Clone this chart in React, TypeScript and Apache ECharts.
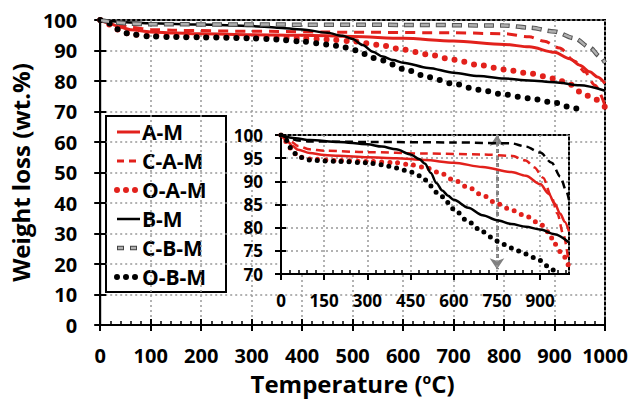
import React, { useEffect, useRef } from "react";
import * as echarts from "echarts";

const seriesNames = ["A-M", "C-A-M", "O-A-M", "B-M", "C-B-M", "O-B-M"];

const amData = [[0,100],[20,98.8],[40,97.6],[60,96.8],[100,96.1],[150,95.7],[200,95.5],[300,95.2],[400,95],[500,94.6],[600,94],[700,93.1],[800,92],[850,91.2],[900,89.4],[930,87.3],[950,85.2],[970,83],[985,81.3],[1000,79.2]];
const camData = [[0,100],[30,98.8],[60,97.6],[100,96.9],[150,96.6],[300,96.3],[500,96],[700,95.8],[800,95.5],[850,94.5],[880,93],[910,90.8],[940,86.5],[960,83],[980,78.6],[1000,72]];
const oamData = [[0,100],[20,98.5],[40,96.5],[60,95.3],[100,94.8],[200,94.5],[300,94.3],[400,94],[450,93.6],[500,93],[550,91.9],[600,90.3],[650,88.7],[700,87],[750,85.2],[800,83.8],[850,82.5],[900,80.8],[930,79],[950,76.5],[975,74.5],[1000,71.5]];
const bmData = [[0,100],[50,99.3],[100,98.9],[200,98.5],[300,98],[350,97.5],[400,96.9],[450,95.8],[480,94.8],[500,93.8],[520,91.8],[540,89.6],[560,88],[580,86.9],[600,86],[650,84.3],[700,82.7],[750,81.6],[800,80.8],[850,80.2],[900,79.6],[950,78.6],[1000,76.8]];
const cbmData = [[0,100],[30,99.2],[60,98.8],[100,98.6],[300,98.5],[600,98.4],[800,98.2],[850,97.5],[900,96.2],[940,94],[970,91],[990,88],[1000,86]];
const obmData = [[0,100],[20,98.8],[40,96.5],[60,95.3],[100,94.6],[150,94.4],[200,94.3],[300,94],[350,93.6],[400,92.9],[450,92],[480,91.2],[500,90.3],[520,89],[540,87.6],[560,86.7],[600,84],[650,81.3],[700,79.1],[750,77.1],[800,75.6],[850,74.3],[900,72.9],[930,71.5],[960,69.8]];

const arrowX = 750;
const arrowRange = [100, 71];

const RED = "#e2211c";
const FONT = "Open Sans";

export default function App() {
  const ref = useRef<HTMLDivElement>(null);
  useEffect(() => {
    const chart = echarts.init(ref.current!, null, { renderer: "svg" });
    const labelStyle = { fontFamily: FONT, fontWeight: "bold" as const, fontSize: 20, lineHeight: 20, color: "#000", formatter: (v: number) => String(v) };
    const split = { show: true, lineStyle: { color: "#999", type: [2, 3] as any, width: 1.5 } };
    const axisLine = { show: true, onZero: false, lineStyle: { color: "#000", width: 2 } };

    const line = (name: string, data: any, xi: number, style: any, z: number, extra: any = {}) => ({
      name,
      type: "line",
      xAxisIndex: xi,
      yAxisIndex: xi,
      data,
      symbol: "none",
      smooth: 0.3,
      smoothMonotone: "x",
      z,
      lineStyle: style,
      itemStyle: { color: style.color },
      ...extra,
    });

    const mainDot = { color: RED, width: 6, type: [0, 10], cap: "round" };
    const mainDotB = { color: "#000", width: 6, type: [0, 10], cap: "round" };
    const inDot = { color: RED, width: 5, type: [0, 8], cap: "round" };
    const inDotB = { color: "#000", width: 5, type: [0, 8], cap: "round" };

    // legend drawn as graphic
    const legStyles: any[][] = [
      [{ stroke: RED, lineWidth: 3 }],
      [{ stroke: RED, lineWidth: 3, lineDash: [7, 5] }],
      [{ stroke: RED, lineWidth: 6, lineDash: [0, 9], lineCap: "round" }],
      [{ stroke: "#000", lineWidth: 2.5 }],
      [{ stroke: "#444", lineWidth: 4.5, lineDash: [7, 6] }, { stroke: "#b0b0b0", lineWidth: 2.5, lineDash: [5, 8], lineDashOffset: -1 }],
      [{ stroke: "#000", lineWidth: 6, lineDash: [0, 9], lineCap: "round" }],
    ];
    const legX = 106, legY = 116, rowY0 = 132, rowGap = 29;
    const legendChildren: any[] = [
      { type: "rect", shape: { x: legX, y: legY, width: 120, height: 176 }, style: { fill: "#fff", stroke: "#000", lineWidth: 2 } },
    ];
    seriesNames.forEach((n, i) => {
      const y = rowY0 + i * rowGap;
      legStyles[i].forEach((st) => {
        legendChildren.push({ type: "line", shape: { x1: 117, y1: y, x2: 140, y2: y }, style: { ...st } });
      });
      legendChildren.push({
        type: "text", x: 142, y: y,
        style: { text: n, fontFamily: FONT, fontWeight: "bold", fontSize: 21, fill: "#000", verticalAlign: "middle", align: "left" },
      });
    });

    chart.setOption({
      animation: false,
      backgroundColor: "#fff",
      grid: [
        { left: 100, top: 20, right: 29, bottom: 77, show: true, borderColor: "#000", borderWidth: 2, backgroundColor: "#fff", z: 0 },
        { left: 281, top: 135, right: 65, bottom: 128, show: true, borderColor: "#000", borderWidth: 2, backgroundColor: "#fff", z: 5 },
      ],
      xAxis: [
        {
          type: "value", gridIndex: 0, min: 0, max: 1000, interval: 100,
          axisLine, axisTick: { show: true, inside: false, length: 6, lineStyle: { color: "#000", width: 2 } },
          axisLabel: { ...labelStyle, margin: 20 },
          splitLine: split,
          name: "Temperature ({s|o}C)",
          nameLocation: "middle", nameGap: 46,
          nameTextStyle: { fontFamily: FONT, fontWeight: "bold", fontSize: 24, color: "#000", rich: { s: { fontFamily: FONT, fontWeight: "bold", fontSize: 14, verticalAlign: "top", padding: [0, 0, 10, 0] } } },
        },
        {
          type: "value", gridIndex: 0, min: 0, max: 1000, interval: 100, position: "bottom",
          axisLine: { show: false }, axisLabel: { show: false }, splitLine: { show: false },
          axisTick: { show: true, inside: true, length: 6, lineStyle: { color: "#000", width: 2 } },
          minorTick: { show: true, splitNumber: 5, length: 4, lineStyle: { color: "#000", width: 1.5 } },
        },
        {
          type: "value", gridIndex: 1, min: 0, max: 1000, interval: 150, z: 6,
          axisLine, axisTick: { show: true, inside: false, length: 6, lineStyle: { color: "#000", width: 2 } },
          axisLabel: { ...labelStyle, fontSize: 17, lineHeight: 17, margin: 18, showMaxLabel: false },
          splitLine: split,
        },
        {
          type: "value", gridIndex: 1, min: 0, max: 1000, interval: 150, position: "bottom", z: 6,
          axisLine: { show: false }, axisLabel: { show: false }, splitLine: { show: false },
          axisTick: { show: false, inside: true },
          minorTick: { show: true, splitNumber: 5, length: 4, lineStyle: { color: "#000", width: 1.5 } },
        },
      ],
      yAxis: [
        {
          type: "value", gridIndex: 0, min: 0, max: 100, interval: 10,
          axisLine, axisTick: { show: true, inside: false, length: 6, lineStyle: { color: "#000", width: 2 } },
          axisLabel: { ...labelStyle, margin: 23 },
          splitLine: split,
          name: "Weight loss (wt.%)", nameLocation: "middle", nameGap: 62,
          nameTextStyle: { fontFamily: FONT, fontWeight: "bold", fontSize: 24, color: "#000" },
        },
        {
          type: "value", gridIndex: 0, min: 0, max: 100, interval: 10, position: "left",
          axisLine: { show: false }, axisLabel: { show: false }, splitLine: { show: false },
          axisTick: { show: true, inside: true, length: 6, lineStyle: { color: "#000", width: 2 } },
        },
        {
          type: "value", gridIndex: 1, min: 70, max: 100, interval: 5, z: 6,
          axisLine, axisTick: { show: true, inside: false, length: 6, lineStyle: { color: "#000", width: 2 } },
          axisLabel: { ...labelStyle, fontSize: 17, lineHeight: 17, margin: 18 },
          splitLine: split,
        },
        {
          type: "value", gridIndex: 1, min: 70, max: 100, interval: 5, position: "left", z: 6,
          axisLine: { show: false }, axisLabel: { show: false }, splitLine: { show: false },
          axisTick: { show: true, inside: true, length: 5, lineStyle: { color: "#000", width: 2 } },
        },
      ],
      graphic: [{ type: "group", z: 20, children: legendChildren }],
      series: [
        line("A-M", amData, 0, { color: RED, width: 3 }, 3),
        line("C-A-M", camData, 0, { color: RED, width: 3, type: [10, 7] }, 3),
        line("O-A-M", oamData, 0, mainDot, 3),
        line("B-M", bmData, 0, { color: "#000", width: 2.5 }, 3),
        line("C-B-M", cbmData, 0, { color: "#b0b0b0", width: 2.5, type: [8, 8], dashOffset: -1 }, 4),
        line("C-B-M outline", cbmData, 0, { color: "#555", width: 4.5, type: [10, 6] }, 3),
        line("O-B-M", obmData, 0, mainDotB, 3),
        line("A-M", amData, 2, { color: RED, width: 2.5 }, 8, {
          markLine: {
            silent: true,
            symbol: ["arrow", "arrow"],
            symbolSize: [11, 11],
            label: { show: false },
            lineStyle: { color: "#808080", width: 3, type: [4, 3] },
            data: [[{ coord: [arrowX, arrowRange[0]] }, { coord: [arrowX, arrowRange[1]] }]],
          },
        }),
        line("C-A-M", camData, 2, { color: RED, width: 2.5, type: [8, 5] }, 8),
        line("O-A-M", oamData, 2, inDot, 8),
        line("B-M", bmData, 2, { color: "#000", width: 2.5 }, 8),
        line("C-B-M", cbmData, 2, { color: "#000", width: 2.5, type: [8, 5] }, 8),
        line("O-B-M", obmData, 2, inDotB, 8),
      ],
    });
    return () => chart.dispose();
  }, []);
  return <div ref={ref} style={{ position: "absolute", left: 0, top: 0, width: 634, height: 402, background: "#fff" }} />;
}
